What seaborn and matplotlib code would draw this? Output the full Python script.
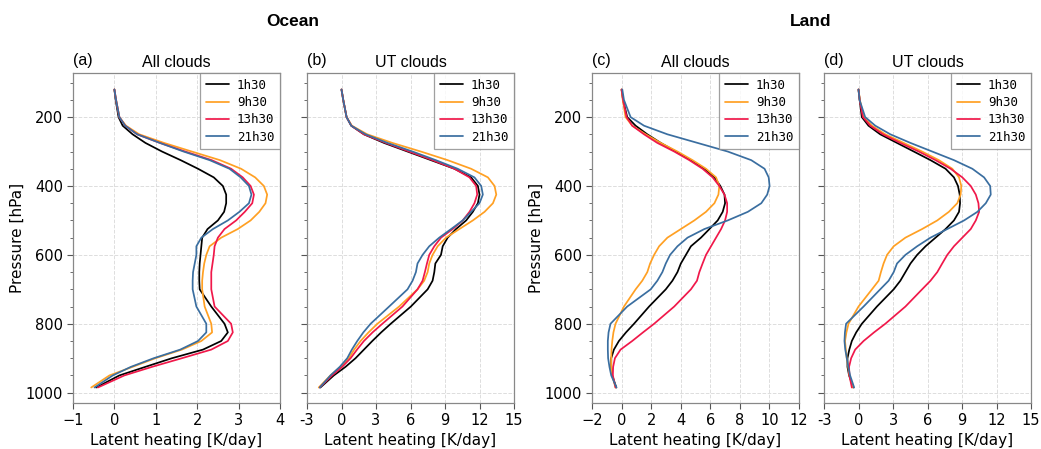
import numpy as np
import pandas as pd
import matplotlib
matplotlib.use("Agg")
import matplotlib.pyplot as plt
import seaborn as sns
from matplotlib.ticker import MultipleLocator

# ---------------- data ----------------
pressure = [120, 150, 200, 225, 250, 275, 300, 325, 350, 375, 400, 425, 450, 475,
            500, 525, 550, 575, 600, 625, 650, 675, 700, 750, 800, 825, 850, 875,
            900, 925, 950, 985]
times = ["1h30", "9h30", "13h30", "21h30"]

# (a) Ocean, all clouds
ocean_all_1h30 = [0.0, 0.03, 0.1, 0.2, 0.44, 0.75, 1.15, 1.6, 2.02, 2.4, 2.62, 2.7, 2.7, 2.65,
                  2.5, 2.25, 2.12, 2.1, 2.08, 2.06, 2.05, 2.05, 2.06, 2.34, 2.66, 2.74, 2.58, 2.14,
                  1.39, 0.75, 0.12, -0.44]
ocean_all_9h30 = [0.0, 0.04, 0.12, 0.28, 0.6, 1.2, 1.87, 2.55, 3.06, 3.4, 3.61, 3.69, 3.65, 3.5,
                  3.29, 2.98, 2.58, 2.3, 2.22, 2.17, 2.14, 2.12, 2.12, 2.18, 2.34, 2.36, 2.1, 1.63,
                  0.99, 0.44, -0.12, -0.56]
ocean_all_13h30 = [0.0, 0.04, 0.12, 0.26, 0.55, 1.1, 1.71, 2.35, 2.82, 3.1, 3.29, 3.37, 3.33, 3.15,
                   2.94, 2.66, 2.5, 2.42, 2.4, 2.37, 2.34, 2.34, 2.34, 2.42, 2.82, 2.86, 2.74, 2.34,
                   1.63, 0.91, 0.24, -0.4]
ocean_all_21h30 = [0.0, 0.04, 0.12, 0.26, 0.55, 1.1, 1.67, 2.3, 2.78, 3.05, 3.25, 3.31, 3.25, 3.02,
                   2.74, 2.38, 2.1, 1.98, 1.98, 1.94, 1.9, 1.89, 1.89, 1.98, 2.22, 2.22, 2.02, 1.59,
                   0.95, 0.4, -0.04, -0.48]

# (b) Ocean, UT clouds
ocean_ut_1h30 = [0.0, 0.15, 0.44, 0.85, 1.95, 3.7, 5.74, 7.78, 9.82, 11.27, 11.86, 12.0, 11.86, 11.42,
                 10.84, 9.96, 9.23, 8.8, 8.65, 8.16, 8.07, 7.92, 7.49, 6.03, 4.28, 3.45, 2.68, 1.95,
                 1.22, 0.35, -0.67, -1.84]
ocean_ut_9h30 = [0.0, 0.15, 0.44, 0.9, 2.24, 4.43, 6.9, 9.23, 11.27, 12.73, 13.31, 13.46, 13.17, 12.44,
                 11.42, 10.25, 9.09, 8.36, 7.92, 7.63, 7.49, 7.19, 6.61, 5.01, 3.12, 2.35, 1.66, 1.1,
                 0.64, -0.09, -0.96, -1.98]
ocean_ut_13h30 = [0.0, 0.15, 0.44, 0.85, 1.95, 3.85, 5.88, 7.92, 9.82, 11.13, 11.71, 11.8, 11.56, 11.13,
                  10.54, 9.67, 8.65, 8.07, 7.63, 7.43, 7.25, 7.05, 6.61, 5.3, 3.55, 2.7, 1.95, 1.35,
                  0.79, 0.06, -0.82, -1.89]
ocean_ut_21h30 = [0.0, 0.15, 0.44, 0.85, 2.1, 4.0, 6.18, 8.2, 10.1, 11.56, 12.15, 12.29, 12.0, 11.27,
                  10.54, 9.53, 8.5, 7.63, 7.05, 6.61, 6.47, 6.18, 5.74, 4.14, 2.53, 1.9, 1.37, 0.9,
                  0.5, -0.15, -0.96, -1.89]

# (c) Land, all clouds
land_all_1h30 = [0.0, 0.1, 0.38, 0.95, 1.74, 2.65, 3.67, 4.69, 5.6, 6.28, 6.68, 6.96, 7.0, 6.84,
                 6.5, 5.94, 5.37, 4.69, 4.35, 4.01, 3.78, 3.44, 2.99, 1.86, 0.84, 0.3, -0.18, -0.52,
                 -0.7, -0.7, -0.63, -0.36]
land_all_9h30 = [0.0, 0.08, 0.27, 0.72, 1.63, 2.65, 3.78, 4.8, 5.71, 6.39, 6.61, 6.55, 6.28, 5.71,
                 4.92, 4.01, 3.1, 2.54, 2.2, 1.93, 1.74, 1.4, 0.95, 0.16, -0.41, -0.55, -0.63, -0.68,
                 -0.7, -0.7, -0.63, -0.41]
land_all_13h30 = [0.0, 0.1, 0.34, 0.72, 1.52, 2.42, 3.56, 4.58, 5.48, 6.16, 6.61, 6.96, 7.14, 7.14,
                  7.0, 6.73, 6.39, 6.05, 5.71, 5.48, 5.26, 5.1, 4.69, 3.56, 2.2, 1.45, 0.72, -0.07,
                  -0.45, -0.57, -0.59, -0.41]
land_all_21h30 = [0.05, 0.16, 0.61, 1.52, 3.1, 5.14, 7.18, 8.77, 9.67, 9.95, 10.01, 9.85, 9.45, 8.54,
                  7.18, 5.6, 4.46, 3.78, 3.28, 2.99, 2.76, 2.42, 1.97, 0.38, -0.75, -0.88, -0.93, -0.93,
                  -0.91, -0.82, -0.7, -0.34]

# (d) Land, UT clouds
land_ut_1h30 = [0.0, 0.1, 0.29, 0.87, 1.89, 3.35, 4.81, 6.26, 7.57, 8.3, 8.65, 8.8, 8.83, 8.74,
                8.3, 7.57, 6.7, 5.83, 5.1, 4.52, 4.08, 3.64, 3.06, 1.6, 0.29, -0.2, -0.58, -0.8,
                -0.96, -0.96, -0.82, -0.44]
land_ut_9h30 = [0.0, 0.12, 0.44, 1.17, 2.33, 3.93, 5.53, 6.99, 8.16, 8.74, 8.94, 8.88, 8.59, 7.86,
                6.85, 5.53, 4.08, 3.06, 2.48, 2.18, 1.95, 1.75, 1.17, 0.0, -0.87, -1.05, -1.17, -1.1,
                -1.02, -0.9, -0.79, -0.5]
land_ut_13h30 = [0.0, 0.1, 0.38, 1.02, 2.13, 3.64, 5.24, 6.7, 8.01, 9.03, 9.76, 10.2, 10.43, 10.49,
                 10.2, 9.76, 9.03, 8.3, 7.72, 7.28, 6.85, 6.26, 5.53, 4.08, 2.33, 1.35, 0.44, -0.29,
                 -0.64, -0.82, -0.79, -0.58]
land_ut_21h30 = [0.0, 0.09, 0.58, 1.46, 2.77, 4.52, 6.41, 8.3, 9.9, 10.92, 11.45, 11.5, 11.07, 10.34,
                 9.18, 7.72, 6.26, 5.1, 4.08, 3.35, 3.06, 2.62, 1.89, 0.44, -1.08, -1.18, -1.22, -1.15,
                 -1.02, -0.88, -0.73, -0.38]

panels = [
    ("(a)", "All clouds", [ocean_all_1h30, ocean_all_9h30, ocean_all_13h30, ocean_all_21h30], (-1, 4), 1),
    ("(b)", "UT clouds", [ocean_ut_1h30, ocean_ut_9h30, ocean_ut_13h30, ocean_ut_21h30], (-3, 15), 3),
    ("(c)", "All clouds", [land_all_1h30, land_all_9h30, land_all_13h30, land_all_21h30], (-2, 12), 2),
    ("(d)", "UT clouds", [land_ut_1h30, land_ut_9h30, land_ut_13h30, land_ut_21h30], (-3, 15), 3),
]

colors = ["#000000", "#ffa023", "#f0184a", "#3a6ea0"]
palette = dict(zip(times, colors))

# ---------------- figure ----------------
sns.set_theme(style="ticks")
plt.rcParams["font.family"] = ["DejaVu Sans"]
plt.rcParams["text.color"] = "black"
plt.rcParams["axes.labelcolor"] = "black"
plt.rcParams["xtick.color"] = "black"
plt.rcParams["ytick.color"] = "black"

fig = plt.figure(figsize=(10.41, 4.49), dpi=100)
lefts = [73, 307, 592, 824]
W, H = 1041, 449
ax_w = 207
top_px, bot_px = 73, 403

for i, (lab, ttl, series, xlim, xstep) in enumerate(panels):
    ax = fig.add_axes([lefts[i] / W, 1 - bot_px / H, ax_w / W, (bot_px - top_px) / H])
    df = pd.concat([pd.DataFrame({"p": pressure, "lh": s, "time": t})
                    for s, t in zip(series, times)], ignore_index=True)
    sns.lineplot(data=df, x="lh", y="p", hue="time", palette=palette, sort=False,
                 estimator=None, orient="y", lw=1.25, ax=ax)
    ax.set_xlim(*xlim)
    ax.set_ylim(1030, 72)
    ax.xaxis.set_major_locator(MultipleLocator(xstep))
    ax.yaxis.set_major_locator(MultipleLocator(200))
    ax.yaxis.set_minor_locator(MultipleLocator(50))
    ax.grid(True, which="major", ls="--", color="#dddddd", lw=0.7)
    ax.tick_params(axis="both", which="major", labelsize=10.5, length=4, width=0.8,
                   color="#555555", labelcolor="black", pad=3)
    ax.tick_params(axis="y", which="minor", length=2, width=0.6, color="#555555")
    for sp in ax.spines.values():
        sp.set_color("#888888")
        sp.set_linewidth(0.9)
    ax.set_xlabel("Latent heating [K/day]", fontsize=11, labelpad=4)
    if i in (0, 2):
        ax.set_ylabel("Pressure [hPa]", fontsize=11, labelpad=1)
    else:
        ax.set_ylabel("")
        ax.tick_params(axis="y", labelleft=False)
    if xstep == 3:
        ax.set_xticklabels([f"{int(v)}" if v >= 0 else f"-{int(-v)}" for v in ax.get_xticks()])
    ax.set_title(ttl, fontsize=11.5, family="Liberation Sans", pad=4)
    ax.text(0.0, 1.015, lab, transform=ax.transAxes, ha="left", va="bottom",
            fontsize=11.5, family="Liberation Sans")
    leg = ax.legend(loc="upper right", frameon=True, fancybox=False,
                    borderaxespad=0.0, handlelength=1.9, handletextpad=0.6,
                    labelspacing=0.35, borderpad=0.45,
                    prop={"family": "DejaVu Sans Mono", "size": 9})
    leg.get_frame().set_edgecolor("#888888")
    leg.get_frame().set_linewidth(0.9)
    leg.set_title(None)

fig.text((73 + 513) / 2 / W, 1 - 22 / H, "Ocean", ha="center", va="center",
         fontsize=12.5, fontweight="bold", family="Liberation Sans")
fig.text((592 + 1030) / 2 / W, 1 - 22 / H, "Land", ha="center", va="center",
         fontsize=12.5, fontweight="bold", family="Liberation Sans")

fig.savefig("out.png", dpi=100)
